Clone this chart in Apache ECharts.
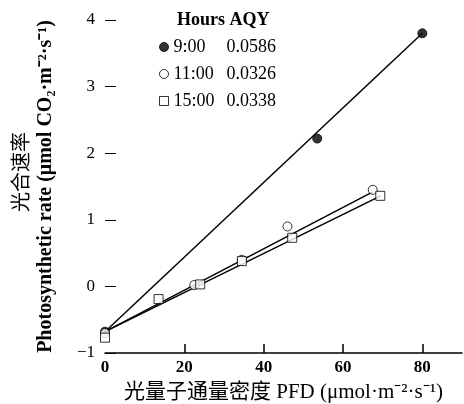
<!DOCTYPE html>
<html>
<head>
<meta charset="utf-8">
<script src="https://cdn.jsdelivr.net/npm/echarts@6/dist/echarts.min.js"></script>
<style>
    html, body { margin: 0; padding: 0; background: #fff; }
    #chart { width: 464px; height: 404px; }
</style>
</head>
<body>
<div id="chart"></div>
<script>
// measured points (PFD, rate)
const hours = ['9:00', '11:00', '15:00']
const aqy = ['0.0586', '0.0326', '0.0338']

const pfd9 = [0, 53.5, 80]
const rate9 = [-0.68, 2.22, 3.8]
const pfd11 = [0, 22.5, 34.5, 46, 67.5]
const rate11 = [-0.7, 0.02, 0.4, 0.9, 1.45]
const pfd15 = [0, 13.5, 24, 34.5, 47.2, 69.4]
const rate15 = [-0.77, -0.19, 0.03, 0.38, 0.73, 1.36]

// fitted lines, end points
const fitPfd = [[0, 80], [0, 67.5], [0, 69.5]]
const fitRate = [[-0.68, 3.8], [-0.68, 1.42], [-0.68, 1.36]]

const xLabels = [0, 20, 40, 60, 80]
const xTickMarks = [20, 40, 60, 80]

const serif = '"Liberation Serif", "Noto Sans CJK SC", serif'
const zip = (xs, ys) => xs.map((x, i) => [x, ys[i]])

const chart = echarts.init(document.getElementById('chart'))

const symbols = ['circle', 'circle', 'rect']
const fills = ['#000', '#fff', '#fff']
const pts = [zip(pfd9, rate9), zip(pfd11, rate11), zip(pfd15, rate15)]

const series = []
fitPfd.forEach((xs, i) => {
    series.push({
        type: 'line',
        data: zip(xs, fitRate[i]),
        symbol: 'none',
        silent: true,
        lineStyle: { color: '#000', width: 1.5 },
        z: 1,
    })
})
hours.forEach((h, i) => {
    series.push({
        type: 'scatter',
        name: h,
        data: pts[i],
        symbol: symbols[i],
        symbolSize: 9,
        itemStyle: { color: fills[i], borderColor: '#000', borderWidth: 1 },
        z: 3,
    })
})

chart.setOption({
    backgroundColor: '#fff',
    animation: false,
    title: {
        text: 'Hours AQY',
        left: 172,
        top: 6,
        textStyle: { fontFamily: serif, fontSize: 18, fontWeight: 'bold', color: '#000' },
    },
    legend: {
        orient: 'vertical',
        left: 154,
        top: 33,
        itemWidth: 9,
        itemHeight: 9,
        itemGap: 9,
        data: hours.map((h, i) => ({
            name: h,
            icon: symbols[i],
            itemStyle: { color: fills[i], borderColor: '#000', borderWidth: 1 },
        })),
        formatter: name => '{h|' + name + '}{v|' + aqy[hours.indexOf(name)] + '}',
        textStyle: {
            fontFamily: serif,
            fontSize: 18,
            color: '#000',
            rich: {
                h: { width: 53, fontFamily: serif, fontSize: 18, color: '#000' },
                v: { fontFamily: serif, fontSize: 18, color: '#000' },
            },
        },
    },
    grid: { left: 105, right: 2, top: 20, bottom: 51, outerBoundsMode: 'none' },
    xAxis: {
        type: 'value',
        min: 0,
        max: 90,
        interval: 20,
        name: '光量子通量密度 PFD (μmol·m⁻²·s⁻¹)',
        nameLocation: 'middle',
        nameGap: 29,
        nameTextStyle: { fontFamily: serif, fontSize: 21, color: '#000' },
        axisLine: { onZero: false, lineStyle: { color: '#000', width: 1.5 } },
        axisTick: { inside: true, length: 9, customValues: xTickMarks, lineStyle: { color: '#000', width: 1.5 } },
        axisLabel: {
            customValues: xLabels,
            margin: 6,
            fontFamily: serif,
            fontSize: 17,
            fontWeight: 'bold',
            color: '#000',
        },
        splitLine: { show: false },
    },
    yAxis: {
        type: 'value',
        min: -1,
        max: 4,
        interval: 1,
        name: 'Photosynthetic rate (μmol CO₂·m⁻²·s⁻¹)',
        nameLocation: 'middle',
        nameGap: 49,
        nameTextStyle: { fontFamily: serif, fontSize: 20, fontWeight: 'bold', color: '#000' },
        axisLine: { show: false },
        axisTick: { show: true, inside: true, length: 11, lineStyle: { color: '#000', width: 1 } },
        axisLabel: {
            margin: 10,
            fontFamily: serif,
            fontSize: 17,
            color: '#000',
            formatter: v => v < 0 ? '−' + Math.abs(v) : String(v),
        },
        splitLine: { show: false },
    },
    graphic: [{
        type: 'text',
        x: 23,
        y: 172,
        rotation: Math.PI / 2,
        style: {
            text: '光合速率',
            fontFamily: serif,
            fontSize: 20,
            fill: '#000',
            textAlign: 'center',
            textVerticalAlign: 'middle',
        },
    }],
    series,
})
</script>
</body>
</html>
